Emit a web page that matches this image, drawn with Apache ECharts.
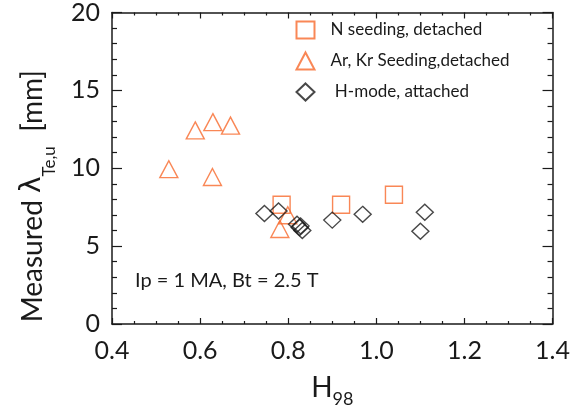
<!DOCTYPE html>
<html lang="en">
<head>
    <meta charset="UTF-8">
    <script src="https://cdn.jsdelivr.net/npm/echarts@6/dist/echarts.min.js"></script>
    <title>lambda vs H98</title>
</head>
<body style="margin:0;">
    <div id="main" style="width:573px;height:415px;"></div>
    <script>
        // N seeding, detached
        var nX = [0.785, 0.92, 1.04];
        var nY = [7.66, 7.66, 8.3];
        // Ar, Kr seeding, detached
        var arX = [0.529, 0.589, 0.629, 0.669, 0.628, 0.781, 0.799];
        var arY = [9.94, 12.43, 12.96, 12.74, 9.44, 6.1, 6.98];
        // H-mode, attached
        var hX = [0.746, 0.778, 0.82, 0.826, 0.832, 0.828, 0.90, 0.969, 1.11, 1.10];
        var hY = [7.1, 7.26, 6.4, 6.2, 6.0, 6.3, 6.67, 7.04, 7.17, 5.95];

        var names = ['N seeding, detached', 'Ar, Kr Seeding,detached', ' H-mode, attached'];
        var orange = '#f8692c';
        var ink = '#1a1a1a';
        var font = 'Lato';

        function pairs(xs, ys) {
            return xs.map(function (x, i) { return [x, ys[i]]; });
        }

        var chartDom = document.getElementById('main');
        var myChart = echarts.init(chartDom);

        var baseX = {
            type: 'value', min: 0.4, max: 1.4, interval: 0.2,
            axisLine: { show: true, onZero: false, lineStyle: { color: ink, width: 1.5 } },
            axisTick: { show: true, inside: true, length: 6, lineStyle: { color: ink, width: 1.2 } },
            minorTick: { show: true, splitNumber: 4, length: 3, lineStyle: { color: ink, width: 1.2 } },
            splitLine: { show: false }
        };
        var baseY = {
            type: 'value', min: 0, max: 20, interval: 5,
            axisLine: { show: true, onZero: false, lineStyle: { color: ink, width: 1.5 } },
            axisTick: { show: true, inside: true, length: 10, lineStyle: { color: ink, width: 1.2 } },
            minorTick: { show: true, splitNumber: 5, length: 5, lineStyle: { color: ink, width: 1.2 } },
            splitLine: { show: false }
        };

        var option = {
            animation: false,
            backgroundColor: '#fff',
            grid: { left: 101, right: 18, top: 3, bottom: 91 },
            legend: {
                orient: 'vertical',
                left: 294, top: 19, padding: 0,
                itemWidth: 18, itemHeight: 17, itemGap: 9,
                data: names,
                textStyle: { fontFamily: font, fontSize: 17, color: ink, padding: [0, 0, 0, 11] }
            },
            xAxis: [
                Object.assign({}, baseX, {
                    position: 'bottom',
                    name: 'H{s|98}',
                    nameLocation: 'middle',
                    nameGap: 42,
                    nameTextStyle: {
                        fontFamily: font, fontSize: 28, color: ink, lineHeight: 40,
                        rich: { s: { fontFamily: font, fontSize: 18, color: ink, verticalAlign: 'bottom', lineHeight: 18 } }
                    },
                    axisLabel: {
                        fontFamily: font, fontSize: 25, color: ink, margin: 14,
                        formatter: function (v) { return v.toFixed(1); }
                    }
                }),
                Object.assign({}, baseX, { position: 'top', axisLabel: { show: false } })
            ],
            yAxis: [
                Object.assign({}, baseY, {
                    position: 'left',
                    name: 'Measured {l|λ}{s|Te,u}  [mm]',
                    nameLocation: 'middle',
                    nameGap: 54,
                    nameRotate: 90,
                    nameTextStyle: {
                        fontFamily: font, fontSize: 28, color: ink, lineHeight: 50,
                        padding: [0, 56, 0, 0],
                        rich: {
                            l: { fontFamily: 'DejaVu Sans', fontSize: 28, color: ink, lineHeight: 50 },
                            s: { fontFamily: font, fontSize: 17, color: ink, verticalAlign: 'bottom', lineHeight: 18 }
                        }
                    },
                    axisLabel: { fontFamily: font, fontSize: 25, color: ink, margin: 12 }
                }),
                Object.assign({}, baseY, { position: 'right', axisLabel: { show: false } })
            ],
            graphic: [{
                type: 'text', left: 135, top: 271,
                style: { text: 'Ip = 1 MA, Bt = 2.5 T', font: '20px Lato', fill: ink }
            }],
            series: [
                {
                    name: names[0], type: 'scatter', symbol: 'rect', symbolSize: 17,
                    itemStyle: { color: 'none', borderColor: orange, borderWidth: 1.4 },
                    data: pairs(nX, nY)
                },
                {
                    name: names[1], type: 'scatter', symbol: 'triangle', symbolSize: [18, 17],
                    itemStyle: { color: 'none', borderColor: orange, borderWidth: 1.4 },
                    data: pairs(arX, arY)
                },
                {
                    name: names[2], type: 'scatter', symbol: 'diamond', symbolSize: [17, 16],
                    itemStyle: { color: 'none', borderColor: ink, borderWidth: 1.4 },
                    data: pairs(hX, hY)
                }
            ]
        };
        myChart.setOption(option);
    </script>
</body>
</html>
